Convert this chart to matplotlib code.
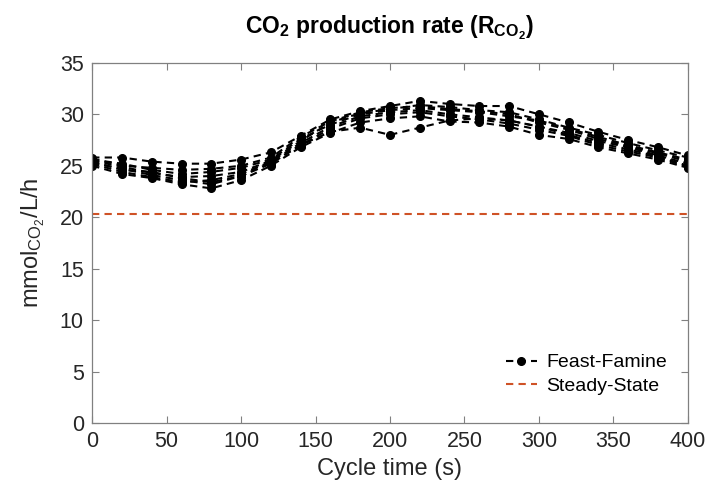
import numpy as np
import matplotlib.pyplot as plt

plt.rcParams['font.family'] = ['Liberation Sans', 'DejaVu Sans']
plt.rcParams['mathtext.fontset'] = 'custom'
plt.rcParams['mathtext.rm'] = 'Liberation Sans'
plt.rcParams['mathtext.it'] = 'Liberation Sans'
plt.rcParams['mathtext.bf'] = 'Liberation Sans:bold'

# cycle time points (s)
t = [0, 20, 40, 60, 80, 100, 120, 140, 160, 180, 200,
     220, 240, 260, 280, 300, 320, 340, 360, 380, 400]

# CO2 production rate per cycle (mmol/L/h)
cycle1 = [25.8, 25.8, 25.4, 25.2, 25.2, 25.6, 26.3, 27.9, 29.5, 30.3, 30.8,
          31.3, 31.0, 30.8, 30.8, 30.0, 29.2, 28.3, 27.5, 26.8, 26.0]
cycle2 = [25.0, 24.2, 23.8, 23.2, 22.8, 23.6, 25.0, 26.8, 28.2, 29.2, 29.6,
          29.8, 29.3, 29.2, 28.8, 28.0, 27.6, 26.8, 26.2, 25.6, 24.8]
cycle3 = [25.4, 24.6, 24.4, 23.8, 23.4, 24.0, 25.2, 27.0, 28.3, 28.7, 28.0,
          28.7, 29.4, 29.6, 29.4, 28.8, 28.2, 27.4, 26.8, 26.0, 25.2]
cycle4 = [25.6, 25.2, 24.6, 24.2, 24.4, 24.8, 25.6, 27.6, 29.0, 30.0, 30.4,
          30.6, 30.4, 30.2, 29.8, 29.4, 28.6, 27.8, 27.0, 26.3, 25.6]
cycle5 = [25.2, 24.4, 23.9, 23.4, 23.6, 24.2, 25.4, 27.2, 28.8, 29.8, 30.2,
          30.4, 30.0, 29.7, 29.4, 28.8, 28.0, 27.2, 26.6, 25.9, 25.0]
cycle6 = [25.5, 24.9, 24.3, 23.9, 24.0, 24.4, 25.5, 27.4, 29.2, 30.1, 30.5,
          30.9, 30.7, 30.4, 30.2, 29.5, 28.7, 28.0, 27.2, 26.5, 25.8]
cycle7 = [25.3, 24.7, 24.1, 23.6, 23.2, 24.0, 25.3, 27.0, 28.6, 29.6, 30.0,
          30.2, 29.8, 29.5, 29.1, 28.5, 27.9, 27.0, 26.4, 25.8, 24.9]
cycle8 = [25.7, 25.0, 24.8, 24.6, 24.7, 25.0, 25.8, 27.8, 29.3, 30.2, 30.6,
          30.8, 30.5, 30.3, 30.0, 29.2, 28.5, 27.6, 26.9, 26.2, 25.4]
cycles = [cycle1, cycle2, cycle3, cycle4, cycle5, cycle6, cycle7, cycle8]

steady_state = 20.3

fig = plt.figure(figsize=(7.09, 4.83), dpi=100)
ax = fig.add_axes([0.130, 0.124, 0.840, 0.746])

for i, c in enumerate(cycles):
    ax.plot(t, c, linestyle=(0, (3.5, 2.5)), color='black', linewidth=1.5,
            marker='o', markersize=5.5,
            label='Feast-Famine' if i == 0 else None)

ax.axhline(steady_state, color='#CF5226', linestyle=(0, (3.5, 2.5)),
           linewidth=1.5, label='Steady-State')

ax.set_xlim(0, 400)
ax.set_ylim(0, 35)
ax.set_xticks(np.arange(0, 401, 50))
ax.set_yticks(np.arange(0, 36, 5))

ax.tick_params(direction='in', top=True, right=True, length=5,
               color='#808080', labelsize=15.5, labelcolor='#262626', pad=6)
for s in ax.spines.values():
    s.set_color('#808080')
    s.set_linewidth(0.9)

ax.set_xlabel('Cycle time (s)', fontsize=17, color='#262626', labelpad=4)
ax.set_ylabel(r'mmol$_{\mathrm{CO_2}}$/L/h', fontsize=17, color='#262626',
              labelpad=9)
ax.set_title(r'CO$_\mathbf{2}$ production rate (R$_{\mathbf{CO_2}}$)',
             fontsize=16.5, fontweight='bold', pad=21)

ax.legend(loc='lower right', frameon=False, fontsize=14,
          handlelength=1.6, handletextpad=0.5, labelspacing=0.3,
          bbox_to_anchor=(0.995, 0.03))

fig.savefig('out.png', dpi=100)
